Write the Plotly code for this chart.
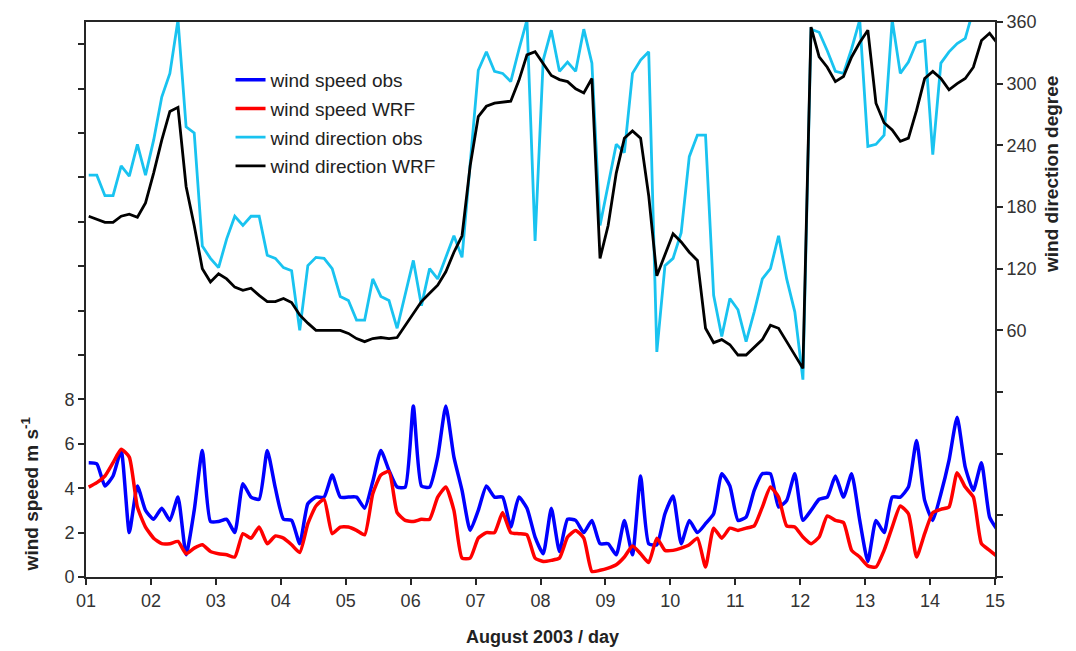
import plotly.graph_objects as go

# time axis: 3-hourly samples, hours since 01 August 00h
HOURS = list(range(1, 338, 3))
DAYS = [1 + h / 24 for h in HOURS]

DAY_TICKS = list(range(1, 16))
DAY_LABELS = ["01", "02", "03", "04", "05", "06", "07", "08", "09", "10", "11", "12", "13", "14", "15"]

SPEED_TICKS = list(range(0, 25, 2))
SPEED_LABELS = ["0", "2", "4", "6", "8"] + [""] * 8

DIR_TICKS = list(range(-180, 361, 60))
DIR_LABELS = ["", "", "", "", "60", "120", "180", "240", "300", "360"]

speed_obs = [5.15, 5.1, 4.1, 4.55, 5.7, 2.0, 4.1, 3.0, 2.6, 3.1, 2.55, 3.6, 1.0, 3.0, 5.7, 2.5,
             2.5, 2.6, 2.0, 4.2, 3.6, 3.5, 5.7, 4.0, 2.6, 2.55, 1.5, 3.3, 3.6, 3.6, 4.6, 3.6,
             3.6, 3.6, 3.1, 4.3, 5.7, 4.8, 4.05, 4.05, 7.7, 4.1, 4.05, 5.4, 7.7, 5.4, 3.9, 2.1,
             3.0, 4.1, 3.6, 3.6, 2.25, 3.6, 3.1, 1.8, 1.05, 3.1, 1.15, 2.6, 2.55, 2.0, 2.55, 1.5,
             1.5, 1.0, 2.55, 1.0, 4.55, 1.5, 1.45, 2.85, 3.65, 1.5, 2.55, 2.0, 2.4, 2.85, 4.65, 4.1,
             2.55, 2.7, 3.9, 4.65, 4.65, 3.15, 3.45, 4.65, 2.55, 3.0, 3.5, 3.6, 4.55, 3.6, 4.65, 2.55,
             0.7, 2.55, 2.0, 3.6, 3.6, 4.05, 6.15, 3.45, 2.55, 3.75, 5.25, 7.2, 4.95, 3.9, 5.15, 2.7,
             2.1]

speed_wrf = [4.05, 4.25, 4.55, 5.15, 5.75, 5.4, 3.15, 2.25, 1.75, 1.5, 1.5, 1.6, 1.05, 1.3, 1.45, 1.15,
             1.05, 1.0, 0.9, 1.95, 1.75, 2.25, 1.5, 1.85, 1.75, 1.45, 1.1, 2.4, 3.2, 3.5, 1.95, 2.25,
             2.25, 2.1, 1.9, 3.75, 4.6, 4.75, 2.9, 2.55, 2.5, 2.6, 2.6, 3.6, 4.05, 3.0, 0.85, 0.85,
             1.75, 2.0, 2.0, 2.9, 2.0, 1.95, 1.9, 0.85, 0.7, 0.75, 0.85, 1.8, 2.1, 1.75, 0.25, 0.3,
             0.4, 0.55, 0.9, 1.4, 1.05, 0.65, 1.75, 1.2, 1.2, 1.3, 1.45, 1.75, 0.45, 2.2, 1.75, 2.2,
             2.1, 2.2, 2.3, 3.15, 4.05, 3.6, 2.3, 2.25, 1.8, 1.5, 1.8, 2.75, 2.55, 2.45, 1.2, 0.9,
             0.5, 0.45, 1.2, 2.25, 3.2, 2.85, 0.9, 1.95, 2.9, 3.05, 3.15, 4.7, 4.05, 3.6, 1.5, 1.2,
             0.9]

dir_obs = [211, 211, 191, 191, 220, 210, 241, 211, 245, 287, 310, 362, 258, 252, 142, 130,
           121, 149, 171, 162, 171, 171, 133, 130, 121, 118, 60, 123, 131, 130, 120, 93,
           89, 70, 70, 110, 93, 89, 62, 94, 128, 84, 120, 110, 131, 152, 131, 226,
           313, 331, 312, 310, 302, 333, 362, 147, 323, 352, 312, 321, 312, 353, 320, 162,
           200, 241, 233, 310, 323, 331, 39, 123, 130, 155, 229, 250, 250, 94, 54, 91,
           80, 49, 78, 110, 120, 152, 110, 78, 12, 353, 350, 332, 312, 310, 334, 362,
           239, 241, 250, 362, 310, 321, 340, 342, 231, 320, 331, 339, 344, 372, None, None,
           None]

dir_wrf = [171, 168, 165, 165, 171, 173, 170, 184, 213, 245, 273, 277, 200, 162, 120, 107,
           115, 110, 102, 99, 101, 94, 88, 88, 91, 87, 75, 67, 60, 60, 60, 60,
           57, 52, 49, 52, 53, 52, 53, 65, 76, 88, 96, 104, 117, 136, 152, 220,
           268, 278, 281, 282, 283, 303, 328, 331, 320, 308, 304, 302, 295, 291, 305, 130,
           162, 213, 247, 254, 247, 191, 113, 133, 154, 146, 136, 128, 62, 48, 51, 46,
           36, 36, 44, 51, 65, 62, 49, 36, 23, 355, 326, 316, 302, 307, 326, 340,
           352, 281, 262, 255, 244, 247, 274, 305, 312, 305, 294, 300, 305, 316, 342, 349,
           339]

FONT = "Liberation Sans, Arial, sans-serif"
AXCOL = "#262626"

fig = go.Figure()
fig.add_trace(go.Scatter(x=DAYS, y=speed_obs, name="wind speed obs", legendgroup="a",
                         mode="lines", line=dict(color="#0000FF", width=3.5, shape="spline", smoothing=0.5)))
fig.add_trace(go.Scatter(x=DAYS, y=speed_wrf, name="wind speed WRF", legendgroup="b",
                         mode="lines", line=dict(color="#FF0000", width=3.5, shape="spline", smoothing=0.5)))
fig.add_trace(go.Scatter(x=DAYS, y=dir_obs, name="wind direction obs", legendgroup="c", yaxis="y2",
                         mode="lines", line=dict(color="#19C3F0", width=2.8)))
fig.add_trace(go.Scatter(x=DAYS, y=dir_wrf, name="wind direction WRF", legendgroup="d", yaxis="y2",
                         mode="lines", line=dict(color="#000000", width=2.8)))

fig.update_layout(
    width=1076, height=651,
    margin=dict(l=86, r=81, t=18, b=74),
    paper_bgcolor="white", plot_bgcolor="white",
    font=dict(family=FONT, size=18, color="#333333"),
    showlegend=True,
    legend=dict(x=0.159, y=0.93, xanchor="left", yanchor="top", bgcolor="rgba(0,0,0,0)",
                font=dict(size=19, color="#222222"), traceorder="grouped", tracegroupgap=1),
    xaxis=dict(range=[1, 15], tickvals=DAY_TICKS, ticktext=DAY_LABELS, ticks="outside",
               ticklen=6, tickwidth=2, tickcolor=AXCOL, showline=True, linecolor=AXCOL, linewidth=2,
               mirror=True, showgrid=False, zeroline=False),
    yaxis=dict(range=[0, 25], tickvals=SPEED_TICKS, ticktext=SPEED_LABELS, ticks="outside",
               ticklen=6, tickwidth=2, tickcolor=AXCOL, showline=True, linecolor=AXCOL, linewidth=2,
               showgrid=False, zeroline=False),
    yaxis2=dict(range=[-180, 360], tickvals=DIR_TICKS, ticktext=DIR_LABELS, ticks="outside",
                ticklen=6, tickwidth=2, tickcolor=AXCOL, showline=True, linecolor=AXCOL, linewidth=2,
                overlaying="y", side="right", showgrid=False, zeroline=False),
    annotations=[
        dict(text="<b>wind speed m s<sup>-1</sup></b>", xref="paper", yref="paper", x=-0.062, y=0.15,
             xanchor="center", yanchor="middle", textangle=-90, showarrow=False,
             font=dict(size=19, color="#222222")),
        dict(text="<b>wind direction degree</b>", xref="paper", yref="paper", x=1.062, y=0.725,
             xanchor="center", yanchor="middle", textangle=-90, showarrow=False,
             font=dict(size=19, color="#222222")),
        dict(text="<b>August 2003 / day</b>", xref="paper", yref="paper", x=0.502, y=-0.109,
             xanchor="center", yanchor="middle", showarrow=False,
             font=dict(size=18, color="#222222")),
    ],
)

fig.write_html("out.html", config={"displayModeBar": False},
               post_script="document.body.style.margin='0px';")
